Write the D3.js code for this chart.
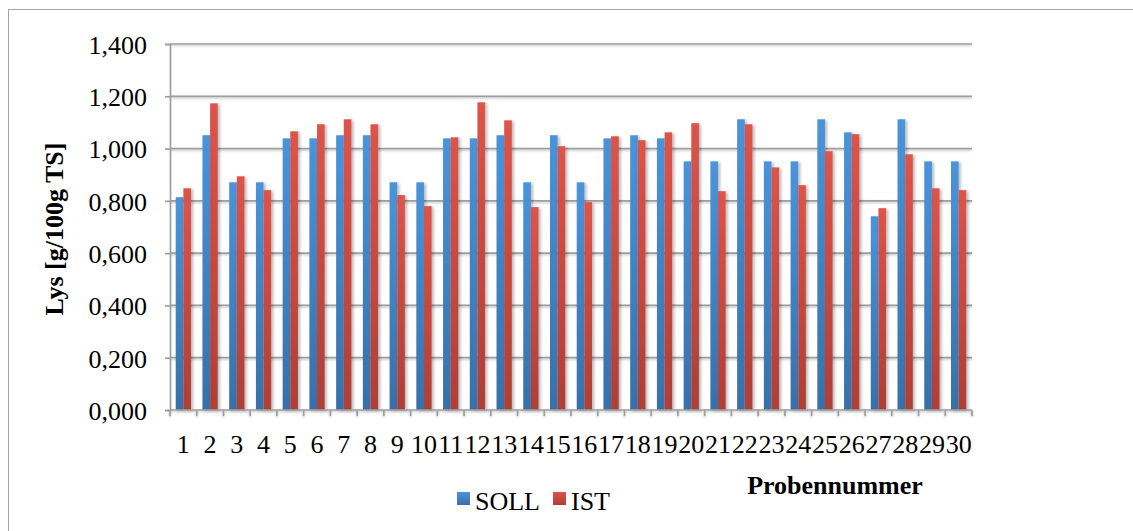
<!DOCTYPE html>
<html>
<head>
<meta charset="utf-8">
<script src="https://cdn.jsdelivr.net/npm/d3@7"></script>
<style>
  html, body { margin: 0; padding: 0; background: #fff; }
  svg { display: block; font-family: "Liberation Serif", "Times New Roman", serif; }
</style>
</head>
<body>
<svg id="chart" width="1133" height="531"></svg>
<script>
// Sample numbers 1..30
const categories = d3.range(1, 31).map(String);
const seriesNames = ["SOLL", "IST"];
// Target (SOLL) and measured (IST) lysine content, g/100g dry matter
const soll = [0.814, 1.051, 0.871, 0.871, 1.039, 1.039, 1.051, 1.051, 0.871, 0.871,
              1.039, 1.039, 1.051, 0.871, 1.051, 0.871, 1.039, 1.051, 1.039, 0.951,
              0.951, 1.112, 0.951, 0.951, 1.112, 1.062, 0.741, 1.112, 0.951, 0.951];
const ist  = [0.848, 1.173, 0.894, 0.841, 1.066, 1.093, 1.112, 1.093, 0.822, 0.780,
              1.043, 1.177, 1.108, 0.776, 1.009, 0.795, 1.047, 1.032, 1.062, 1.097,
              0.837, 1.093, 0.928, 0.860, 0.990, 1.055, 0.772, 0.978, 0.848, 0.841];
const yTicks = [0, 0.2, 0.4, 0.6, 0.8, 1.0, 1.2, 1.4];

const svg = d3.select("#chart");
const W = 1133, H = 531;
const plot = { left: 170, right: 972, top: 44, bottom: 410 };
const gridColor = "#9e9e9e";

// frame around the chart area
svg.append("rect")
  .attr("x", 8.5).attr("y", 9.5)
  .attr("width", W + 20).attr("height", H + 20)
  .attr("fill", "none").attr("stroke", "#a6a6a6").attr("stroke-width", 1);

const defs = svg.append("defs");
function vGrad(id, top, bottom) {
  const g = defs.append("linearGradient").attr("id", id)
    .attr("x1", 0).attr("y1", 0).attr("x2", 0).attr("y2", 1);
  g.append("stop").attr("offset", "0%").attr("stop-color", top);
  g.append("stop").attr("offset", "100%").attr("stop-color", bottom);
}
vGrad("gSOLL", "#4a94da", "#3870a8");
vGrad("gIST", "#dc544b", "#ad3f37");
const shadow = defs.append("filter").attr("id", "shadow")
  .attr("x", "-50%").attr("y", "-10%").attr("width", "200%").attr("height", "120%");
shadow.append("feDropShadow").attr("dx", 2).attr("dy", 1)
  .attr("stdDeviation", 1.6).attr("flood-color", "#000").attr("flood-opacity", 0.28);
const lineShadow = defs.append("filter").attr("id", "lshadow")
  .attr("x", "-5%").attr("y", "-200%").attr("width", "110%").attr("height", "500%");
lineShadow.append("feDropShadow").attr("dx", 0).attr("dy", 1.2)
  .attr("stdDeviation", 0.8).attr("flood-color", "#000").attr("flood-opacity", 0.25);

const y = d3.scaleLinear().domain([0, 1.4]).range([plot.bottom, plot.top]);
const x0 = d3.scaleBand().domain(categories).range([plot.left, plot.right]).padding(0);
// clustered bars with a 150% gap width
const bw = x0.bandwidth();
const gap = 1.5;
const x1 = d3.scaleBand().domain(seriesNames)
  .range([bw * (gap / 2) / (2 + gap), bw * (gap / 2 + 2) / (2 + gap)]).padding(0);

// German-style decimal comma, three decimals
const fmtTick = v => d3.format(".3f")(v).replace(".", ",");

// gridlines
svg.append("g").attr("filter", "url(#lshadow)")
  .selectAll("line").data(yTicks.slice(1)).join("line")
  .attr("x1", plot.left).attr("x2", plot.right)
  .attr("y1", d => y(d)).attr("y2", d => y(d))
  .attr("stroke", gridColor).attr("stroke-width", 1.7);

// y axis
const yAxis = d3.axisLeft(y).tickValues(yTicks).tickSize(5).tickPadding(18)
  .tickFormat(fmtTick);
const gy = svg.append("g").attr("transform", `translate(${plot.left},0)`).call(yAxis);
gy.select(".domain").attr("stroke", gridColor).attr("stroke-width", 1.7);
gy.selectAll(".tick line").attr("stroke", gridColor).attr("stroke-width", 1.7);
gy.selectAll(".tick text").attr("font-size", 26).attr("fill", "#000")
  .attr("font-family", "Liberation Serif").attr("dy", "0.36em");

// bars
const data = categories.map((c, i) => ({ cat: c, vals: [
  { s: "SOLL", v: soll[i] }, { s: "IST", v: ist[i] }] }));
const groups = svg.append("g").selectAll("g").data(data).join("g")
  .attr("transform", d => `translate(${x0(d.cat)},0)`);
groups.selectAll("rect").data(d => d.vals).join("rect")
  .attr("x", d => x1(d.s))
  .attr("y", d => y(d.v))
  .attr("width", x1.bandwidth())
  .attr("height", d => y(0) - y(d.v))
  .attr("fill", d => `url(#g${d.s})`)
  .attr("filter", "url(#shadow)");

// x axis
const gxLine = svg.append("g").attr("filter", "url(#lshadow)");
gxLine.append("line")
  .attr("x1", plot.left).attr("x2", plot.right)
  .attr("y1", y(0)).attr("y2", y(0))
  .attr("stroke", gridColor).attr("stroke-width", 1.7);
const boundaries = categories.map(c => x0(c)).concat([plot.right]);
gxLine.selectAll("line.tk").data(boundaries).join("line").attr("class", "tk")
  .attr("x1", d => d).attr("x2", d => d)
  .attr("y1", y(0)).attr("y2", y(0) + 6)
  .attr("stroke", gridColor).attr("stroke-width", 1.7);

svg.append("g").selectAll("text").data(categories).join("text")
  .attr("x", d => x0(d) + bw / 2)
  .attr("y", 453)
  .attr("text-anchor", "middle")
  .attr("font-size", 26)
  .text(d => d);

// axis titles
svg.append("text")
  .attr("transform", `translate(63,229) rotate(-90)`)
  .attr("text-anchor", "middle")
  .attr("font-size", 26).attr("font-weight", "bold")
  .text("Lys [g/100g TS]");

svg.append("text")
  .attr("x", 835).attr("y", 494)
  .attr("text-anchor", "middle")
  .attr("font-size", 26).attr("font-weight", "bold")
  .text("Probennummer");

// legend
const legendItems = [{ s: "SOLL", x: 457 }, { s: "IST", x: 553 }];
const lg = svg.append("g").selectAll("g").data(legendItems).join("g")
  .attr("transform", d => `translate(${d.x},492)`);
lg.append("rect").attr("width", 13).attr("height", 13)
  .attr("fill", d => `url(#g${d.s})`);
lg.append("text").attr("x", 18).attr("y", 18)
  .attr("font-size", 26).text(d => d.s);
</script>
</body>
</html>
